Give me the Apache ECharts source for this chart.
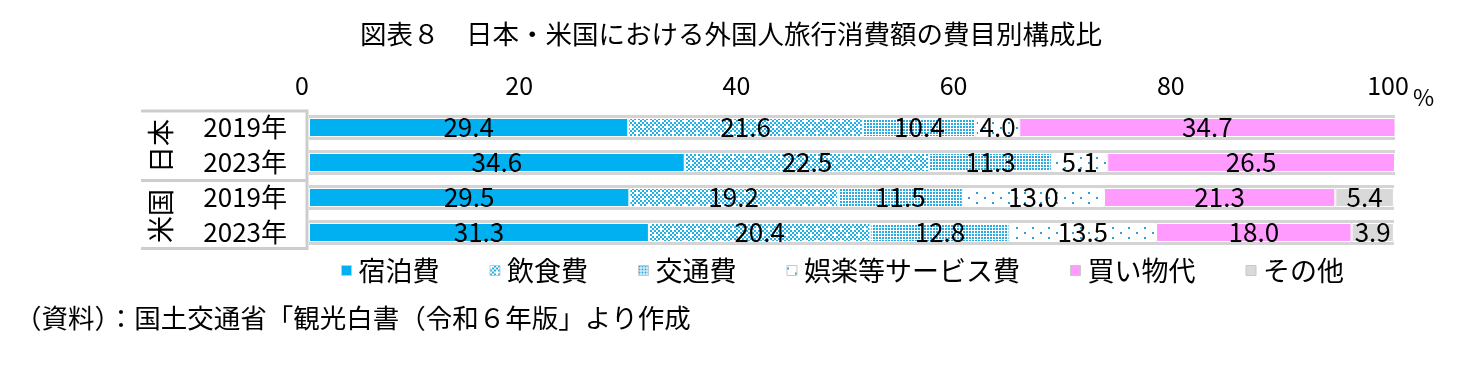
<!DOCTYPE html>
<html><head><meta charset="utf-8">
<script src="https://cdn.jsdelivr.net/npm/echarts@6/dist/echarts.min.js"></script>
<style>html,body{margin:0;padding:0;background:#fff}#c{width:1462px;height:366px}</style>
</head><body><div id="c"></div>
<script>
// ---- data ----
const countries = ['日本', '米国'];
const years = ['2019年', '2023年'];
const xTicks = [0, 20, 40, 60, 80, 100];
const seriesNames = ['宿泊費', '飲食費', '交通費', '娯楽等サービス費', '買い物代', 'その他'];
const lodging = [29.4, 34.6, 29.5, 31.3];
const food = [21.6, 22.5, 19.2, 20.4];
const transport = [10.4, 11.3, 11.5, 12.8];
const entertainment = [4.0, 5.1, 13.0, 13.5];
const shopping = [34.7, 26.5, 21.3, 18.0];
const other = [null, null, 5.4, 3.9];
const titleText = '図表８　日本・米国における外国人旅行消費額の費目別構成比';
const sourceText = '（資料）：国土交通省「観光白書（令和６年版」より作成';

// ---- build ----
const categories = [];
countries.forEach(c => years.forEach(y => categories.push(c + y)));
const values = [lodging, food, transport, entertainment, shopping, other];
const totals = categories.map((_, i) => values.reduce((s, arr) => s + (arr[i] || 0), 0));
const F = "'Noto Sans CJK JP', 'Noto Sans', sans-serif";

function pattern(w, h, draw) {
  const c = document.createElement('canvas'); c.width = w; c.height = h;
  const g = c.getContext('2d'); g.fillStyle = '#fff'; g.fillRect(0, 0, w, h);
  draw(g); return { image: c, repeat: 'repeat' };
}
const foodPat = pattern(12, 12, g => {
  g.fillStyle = '#22B0E8';
  for (let i = 0; i < 6; i++) for (let j = 0; j < 6; j++) {
    if ((i + j) % 2 === 0 && !((i === 0 && j === 0) || (i === 3 && j === 3))) g.fillRect(i * 2, j * 2, 2, 2);
  }
});
const transPat = pattern(3, 3, g => { g.fillStyle = '#2AAAE0'; g.fillRect(0, 0, 2, 2); });
const entPat = pattern(16, 10, g => { g.fillStyle = '#2FA0D6'; g.fillRect(0, 2, 2, 2); g.fillRect(8, 7, 2, 2); });
const colors = ['#00B0F0', foodPat, transPat, entPat, '#FF9BFF', '#D9D9D9'];

const chart = echarts.init(document.getElementById('c'), null, { renderer: 'canvas' });
const lineStyle = { stroke: '#CDCDCD', lineWidth: 3 };
const option = {
  animation: false,
  backgroundColor: '#fff',
  title: [
    { text: titleText, left: 'center', top: 16, textStyle: { fontSize: 26.5, fontWeight: 'normal', color: '#000', fontFamily: F } },
    { text: sourceText, left: 10, top: 300, textStyle: { fontSize: 26.5, fontWeight: 'normal', color: '#000', fontFamily: F } }
  ],
  grid: { left: 309, right: 67, top: 110, bottom: 116 },
  xAxis: {
    type: 'value', position: 'top', min: xTicks[0], max: xTicks[xTicks.length - 1], interval: xTicks[1] - xTicks[0],
    axisLine: { show: false }, axisTick: { show: false }, splitLine: { show: false },
    axisLabel: { fontSize: 25, color: '#000', fontFamily: F, margin: 12, padding: [0, 14, 0, 0] },
    name: '%', nameLocation: 'end', nameGap: 18,
    nameTextStyle: { fontSize: 23, color: '#000', fontFamily: F, verticalAlign: 'bottom', lineHeight: 26 }
  },
  yAxis: [
    { type: 'category', data: categories, inverse: true,
      axisLine: { show: false }, axisTick: { show: false },
      axisLabel: { formatter: (v, i) => years[i % years.length], fontSize: 26, color: '#000', fontFamily: F, margin: 22 } },
    { type: 'category', data: categories, inverse: true, show: false }
  ],
  legend: {
    left: 336, top: 252, itemWidth: 10, itemHeight: 10, itemGap: 50, icon: 'rect',
    textStyle: { fontSize: 27, color: '#000', fontFamily: F, padding: [0, 0, 0, 2] },
    itemStyle: { borderColor: '#C8C8C8', borderWidth: 1 },
    data: seriesNames
  },
  series: [
    { type: 'bar', name: '_bg', yAxisIndex: 1, data: totals, barWidth: 25, silent: true, z: 1,
      itemStyle: { color: '#D4D4D4' } }
  ].concat(seriesNames.map((n, k) => ({
    type: 'bar', name: n, stack: 'total', data: values[k], barWidth: 19, z: 2,
    itemStyle: { color: colors[k], borderColor: '#fff', borderWidth: 1 },
    label: { show: true, position: 'inside', formatter: p => (p.value == null ? '' : p.value.toFixed(1)),
      fontSize: 26, color: '#000', fontFamily: F }
  }))),
  graphic: [
    { type: 'line', shape: { x1: 141, y1: 111, x2: 307, y2: 111 }, style: lineStyle },
    { type: 'line', shape: { x1: 141, y1: 180.5, x2: 307, y2: 180.5 }, style: lineStyle },
    { type: 'line', shape: { x1: 141, y1: 248.5, x2: 307, y2: 248.5 }, style: lineStyle },
    { type: 'line', shape: { x1: 307, y1: 109.5, x2: 307, y2: 250 }, style: lineStyle },
    { type: 'text', x: 161, y: 146, rotation: Math.PI / 2,
      style: { text: countries[0], fontSize: 27, fill: '#000', fontFamily: F, align: 'center', verticalAlign: 'middle' } },
    { type: 'text', x: 161, y: 216, rotation: Math.PI / 2,
      style: { text: countries[1], fontSize: 27, fill: '#000', fontFamily: F, align: 'center', verticalAlign: 'middle' } }
  ]
};
chart.setOption(option);
</script></body></html>
